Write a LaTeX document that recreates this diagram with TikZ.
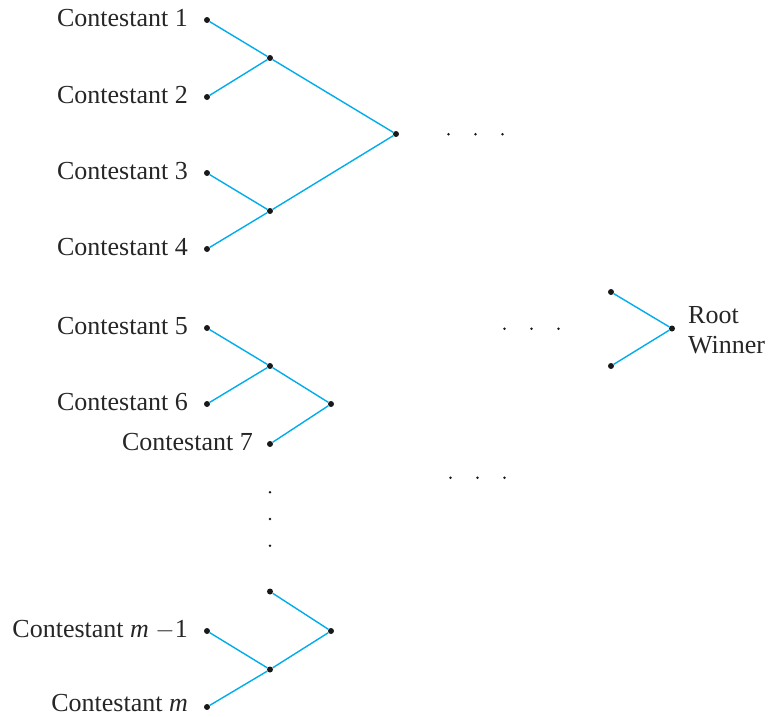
\documentclass[tikz,border=0pt]{standalone}
\usepackage{fontspec}
\setmainfont{Liberation Serif}
\definecolor{linecyan}{RGB}{0,172,236}
\begin{document}
\begin{tikzpicture}[x=1pt,y=-1pt,
  dot/.style={circle,fill=black!90,inner sep=0pt,minimum size=6pt},
  sdot/.style={circle,fill=black!90,inner sep=0pt,minimum size=2.8pt},
  lbl/.style={anchor=base east,inner sep=0pt,font=\fontsize{26}{30}\selectfont,text=black!85},
  rlbl/.style={anchor=base west,inner sep=0pt,font=\fontsize{26}{30}\selectfont,text=black!85},
  edge/.style={draw=linecyan,line width=1.4pt}]
\useasboundingbox (0,0) rectangle (769,716);
% leaves
\node[dot] (c1) at (207,20) {};
\node[dot] (c2) at (207,97) {};
\node[dot] (c3) at (207,173) {};
\node[dot] (c4) at (207,249) {};
\node[dot] (c5) at (207,328) {};
\node[dot] (c6) at (207,404) {};
\node[dot] (c7) at (270,444) {};
\node[dot] (cx) at (270,591.5) {};
\node[dot] (cm1) at (207,631) {};
\node[dot] (cm) at (207,707) {};
% internal
\node[dot] (a12) at (270,58) {};
\node[dot] (a34) at (270,211) {};
\node[dot] (a14) at (396,134) {};
\node[dot] (a56) at (270,366) {};
\node[dot] (a57) at (331,404) {};
\node[dot] (amm) at (270,669.5) {};
\node[dot] (axm) at (331,631) {};
\node[dot] (r1) at (611,292) {};
\node[dot] (r2) at (611,366) {};
\node[dot] (root) at (672,328.5) {};
% labels
\node[lbl] (l1) at (188,26) {Contestant 1};
\node[lbl] (l2) at (188,103) {Contestant 2};
\node[lbl] (l3) at (188,179) {Contestant 3};
\node[lbl] (l4) at (188,255.5) {Contestant 4};
\node[lbl] (l5) at (188,334) {Contestant 5};
\node[lbl] (l6) at (188,410.5) {Contestant 6};
\node[lbl] (l7) at (253,450) {Contestant 7};
\node[lbl] (lm1) at (188,637.5) {Contestant \textit{m} $-$1};
\node[lbl] (lm) at (188,711) {Contestant \textit{m}};
\node[rlbl] (lr) at (688,323) {Root};
\node[rlbl] (lw) at (688,353) {Winner};
% edges
\path[edge] (c1) -- (a12) (c2) -- (a12);
\path[edge] (c3) -- (a34) (c4) -- (a34);
\path[edge] (a12) -- (a14) (a34) -- (a14);
\path[edge] (c5) -- (a56) (c6) -- (a56);
\path[edge] (a56) -- (a57) (c7) -- (a57);
\path[edge] (cm1) -- (amm) (cm) -- (amm);
\path[edge] (cx) -- (axm) (amm) -- (axm);
\path[edge] (r1) -- (root) (r2) -- (root);
% ellipsis dots
\foreach \x [count=\i] in {448.5,475.5,502.5} \node[sdot] (e1\i) at (\x,134.3) {};
\foreach \x [count=\i] in {504.5,531.5,558.5} \node[sdot] (e2\i) at (\x,328.7) {};
\foreach \x [count=\i] in {450.5,477.5,504.5} \node[sdot] (e3\i) at (\x,477.7) {};
\foreach \y [count=\i] in {492.3,519,545.7} \node[sdot] (v\i) at (270,\y) {};
\end{tikzpicture}
\end{document}
